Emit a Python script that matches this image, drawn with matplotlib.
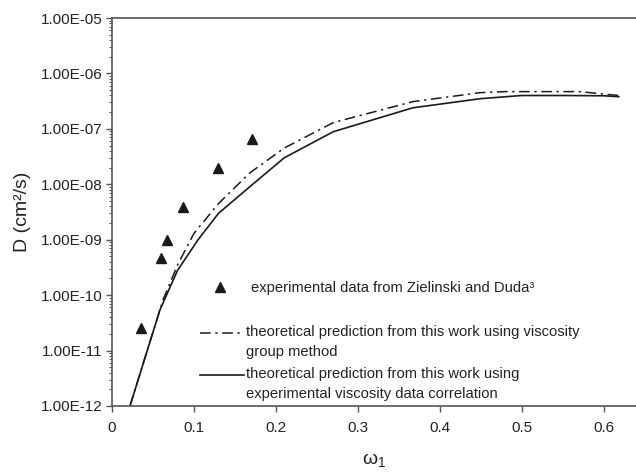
import matplotlib
matplotlib.use("Agg")
import matplotlib.pyplot as plt
import numpy as np
from matplotlib.legend_handler import HandlerLine2D
from matplotlib.lines import Line2D
from matplotlib.ticker import FuncFormatter, LogLocator, MultipleLocator

plt.rcParams['font.family'] = ['Liberation Sans', 'DejaVu Sans']
plt.rcParams['mathtext.fontset'] = 'custom'
plt.rcParams['mathtext.rm'] = 'Liberation Sans'
plt.rcParams['mathtext.it'] = 'Liberation Sans'

# experimental points (Zielinski and Duda)
w_exp = [0.035, 0.060, 0.067, 0.087, 0.129, 0.171]
d_exp = [2.6e-11, 4.7e-10, 1.0e-9, 3.9e-9, 2.0e-8, 6.6e-8]

# viscosity group method (dash-dot)
w_group = [0.022, 0.062, 0.080, 0.100, 0.130, 0.168, 0.210, 0.270, 0.367,
           0.449, 0.480, 0.570, 0.610, 0.618]
d_group = [1.0e-12, 8.0e-11, 3.5e-10, 1.3e-9, 4.5e-9, 1.6e-8, 4.5e-8, 1.3e-7,
           3.1e-7, 4.5e-7, 4.7e-7, 4.7e-7, 4.1e-7, 4.0e-7]

# experimental viscosity correlation (solid)
w_corr = [0.022, 0.0585, 0.080, 0.105, 0.130, 0.168, 0.210, 0.270, 0.367,
          0.449, 0.500, 0.550, 0.600, 0.618]
d_corr = [1.0e-12, 5.4e-11, 2.8e-10, 1.0e-9, 3.0e-9, 9.0e-9, 3.0e-8, 8.9e-8,
          2.4e-7, 3.5e-7, 4.0e-7, 4.0e-7, 3.95e-7, 3.8e-7]

lab_exp = "experimental data from Zielinski and Duda\u00b3"
lab_group = "theoretical prediction from this work using viscosity\ngroup method"
lab_corr = "theoretical prediction from this work using\nexperimental viscosity data correlation"

LEG_FS = 10.6
LINE_SP = 1.59


class FirstLineHandler(HandlerLine2D):
    # put the sample line next to the first line of a two-line label
    def create_artists(self, legend, orig_handle, xdescent, ydescent,
                       width, height, fontsize, trans):
        arts = super().create_artists(legend, orig_handle, xdescent, ydescent,
                                      width, height, fontsize, trans)
        for a in arts:
            a.set_ydata(np.asarray(a.get_ydata()) + 0.62 * fontsize)
        return arts


fig = plt.figure(figsize=(6.36, 4.74), dpi=100)
ax = fig.add_axes([0.176, 0.1435, 0.824, 0.8185])

ink = "#1a1a1a"
ax.plot(w_exp, d_exp, linestyle="none", marker="^", markersize=7.5,
        color=ink, label=lab_exp)
l_group, = ax.plot(w_group, d_group, color=ink, lw=1.1,
                   dashes=(7, 3, 1.5, 3), label=lab_group)
l_corr, = ax.plot(w_corr, d_corr, color=ink, lw=1.2, label=lab_corr)

ax.set_yscale("log")
ax.set_ylim(1e-12, 1e-5)
ax.set_xlim(0, 0.639)

ax.yaxis.set_major_locator(LogLocator(base=10, numticks=10))
ax.yaxis.set_minor_locator(LogLocator(base=10, subs=np.arange(2, 10), numticks=20))
ax.yaxis.set_major_formatter(FuncFormatter(lambda v, p: f"{v:.2E}"))
ax.xaxis.set_major_locator(MultipleLocator(0.1))
ax.xaxis.set_major_formatter(FuncFormatter(lambda v, p: "0" if v == 0 else f"{v:.1f}"))

spine_c = "#555555"
for s in ["left", "bottom", "top"]:
    ax.spines[s].set_color(spine_c)
    ax.spines[s].set_linewidth(1.2)
ax.spines["right"].set_visible(False)

ax.tick_params(axis="both", which="major", direction="out", length=4,
               width=1, color=spine_c, labelsize=11, labelcolor="#222222")
ax.tick_params(axis="y", which="minor", direction="out", length=2.5,
               width=0.7, color=spine_c)
ax.tick_params(axis="x", which="major", pad=7)
ax.tick_params(axis="y", which="major", pad=3)

ax.set_ylabel("D (cm\u00b2/s)", fontsize=14, color="#222222", labelpad=7)
ax.set_xlabel(r"$\omega_1$", fontsize=14, color="#222222", labelpad=11)

tri = Line2D([], [], linestyle="none", marker="^", markersize=6.5, color=ink)
leg1 = ax.legend([tri], [lab_exp], loc="upper left",
                 bbox_to_anchor=(0.1775, 0.322), frameon=False, fontsize=LEG_FS,
                 borderpad=0, borderaxespad=0, handlelength=2,
                 handletextpad=1.13)
for t in leg1.get_texts():
    t.set_color("#222222")
ax.add_artist(leg1)

leg2 = ax.legend([l_group, l_corr], [lab_group, lab_corr], loc="upper left",
                 bbox_to_anchor=(0.168, 0.209), frameon=False, fontsize=LEG_FS,
                 borderpad=0, borderaxespad=0, handlelength=3.0,
                 handletextpad=0.15, labelspacing=0.5,
                 handler_map={Line2D: FirstLineHandler()})
for t in leg2.get_texts():
    t.set_color("#222222")
    t.set_linespacing(LINE_SP)

fig.savefig("out.png", dpi=100)
